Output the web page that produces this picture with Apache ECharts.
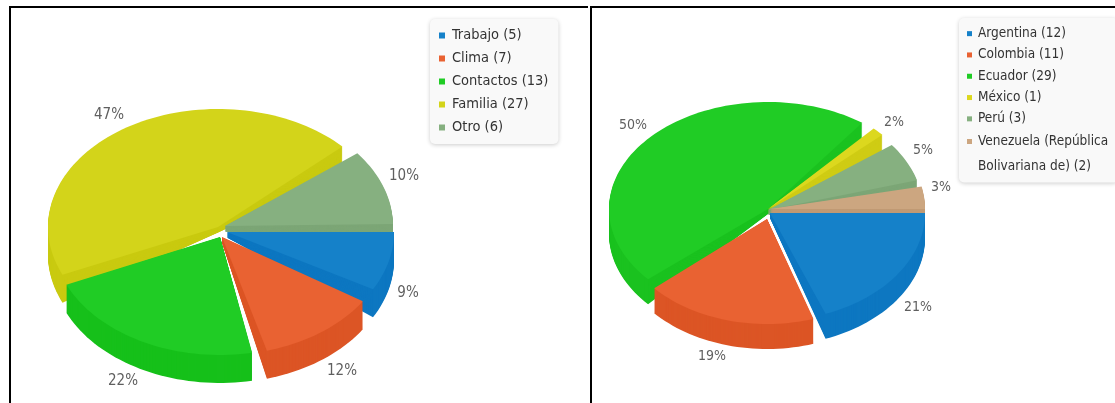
<!DOCTYPE html>
<html><head><meta charset="utf-8">
<style>html,body{margin:0;padding:0;background:#fff}#c{width:1115px;height:403px}</style>
<script src="https://cdn.jsdelivr.net/npm/echarts@6/dist/echarts.min.js"></script>
</head><body><div id="c"></div>
<script>
// ---- data ----
const leftCategories = ['Trabajo','Clima','Contactos','Familia','Otro'];
const leftValues = [5,7,13,27,6];
const rightCategories = ['Argentina','Colombia','Ecuador','México','Perú','Venezuela (República\nBolivariana de)'];
const rightValues = [12,11,29,1,3,2];
// ---- styles ----
const leftTop = ['#1581c9','#e96232','#20cc25','#d3d41a','#86b080'];
const leftSide = ['#0d77c1','#dc5525','#16c01a','#c9ca10','#7ca676'];
const rightTop = ['#1581c9','#e96232','#20cc25','#dcd81e','#86b080','#cca680'];
const rightSide = ['#0d77c1','#dc5525','#1ac21f','#cfcc14','#7ca676','#c09a74'];
// per-slice projection: apex x, apex y, radius x, radius y, angle correction at start and end (degrees)
const leftProj = [[227,232,167,118,0,-2],[222,237,168,118,2,0],[220,237,168,118,4.5,1],[218,227,170,118,1,-5.7],[225,226,168,118,-0.8,-1]];
const rightProj = [[770,213,155,108,0,-5.5],[767,219,150,105,-2.5,-4],[768,209,159,107,-3.8,-16.4],[768,209,155,110,-9.8,-11.4],[768,210,155,108,-6,-3.6],[770,209,155,108,0.4,0]];
const leftLabels = [[408,293],[342,371],[123,381],[109,115],[404,176]];
const rightLabels = [[918,307],[712,356],[633,125],[894,122],[923,150],[941,187]];
const leftOrder = [3,4,0,2,1];
const rightOrder = [2,3,4,5,0,1];
const APEX_TAPER = 0.2;
const FONT = '"DejaVu Sans Condensed","DejaVu Sans",sans-serif';

function outline(p, a0, a1, d){
  const [cx,cy,rx,ry] = p;
  const pts = [[cx, cy + d*APEX_TAPER]];
  const n = Math.max(2, Math.ceil((a1-a0)/2));
  for(let j=0;j<=n;j++){
    const t = (a0 + (a1-a0)*j/n)*Math.PI/180;
    pts.push([cx + rx*Math.cos(t), cy + ry*Math.sin(t) + d]);
  }
  return pts;
}
function panel(cats, vals, tops, sides, proj, labels, order, depth, fontSize){
  const total = vals.reduce((a,b)=>a+b,0);
  let acc = 0;
  const spans = vals.map(v=>{const s=acc; acc+=v; return [s/total*360, acc/total*360];});
  const name = i => cats[i]+' ('+vals[i]+')';
  const series = order.map((i,k)=>({
    type:'custom', name:name(i), coordinateSystem:'none', silent:true, animation:false, z:2+k,
    itemStyle:{color:tops[i]},
    data:[[vals[i]]],
    renderItem:function(){
      const p = proj[i], a0=spans[i][0]+p[4], a1=spans[i][1]+p[5];
      const kids=[];
      for(let d=depth;d>=0;d--){
        kids.push({type:'polygon',shape:{points:outline(p,a0,a1,d)},style:{fill:d===0?tops[i]:sides[i]}});
      }
      kids.push({type:'text',x:labels[i][0],y:labels[i][1],
        style:{text:Math.round(vals[i]/total*100)+'%',fill:'#5f5f5f',font:fontSize+'px '+FONT,align:'center',verticalAlign:'middle'}});
      return {type:'group',children:kids};
    }
  }));
  return {series, names:cats.map((c,i)=>name(i))};
}
const L = panel(leftCategories,leftValues,leftTop,leftSide,leftProj,leftLabels,leftOrder,28,15);
const R = panel(rightCategories,rightValues,rightTop,rightSide,rightProj,rightLabels,rightOrder,25,14);
const legendBase = {orient:'vertical',align:'left',icon:'rect',selectedMode:false,itemGap:0,
  backgroundColor:'#f9f9f9',borderRadius:5,shadowColor:'rgba(0,0,0,0.2)',shadowBlur:4,shadowOffsetX:0,shadowOffsetY:1};
const bar=(x,y,w,h,c)=>({type:'rect',silent:true,z:50,shape:{x,y,width:w,height:h},style:{fill:c||'#000'}});
// the two-line entry keeps its marker beside the first line
const rightLegendData = R.names.map((n,i)=> n.includes('\n') ? {name:n,itemStyle:{opacity:0}} : {name:n});
const chart = echarts.init(document.getElementById('c'),null,{renderer:'canvas'});
chart.setOption({
  backgroundColor:'#fff', animation:false, tooltip:{show:false},
  legend:[
    Object.assign({},legendBase,{data:L.names,left:430,top:19,padding:[5,10,5,9],itemWidth:6,itemHeight:6,
      textStyle:{fontFamily:FONT,fontSize:14.5,color:'#333',lineHeight:23,padding:[0,0,0,2]}}),
    Object.assign({},legendBase,{data:rightLegendData,left:959,top:18,padding:[5,10,3,8],itemWidth:5,itemHeight:5,
      formatter:function(n){
        const parts=n.split('\n');
        return parts.length>1 ? '{a|'+parts[0]+'}\n{b|'+parts[1]+'}' : n;
      },
      textStyle:{fontFamily:FONT,fontSize:13.5,color:'#333',lineHeight:21.3,padding:[0,0,0,1],
        rich:{a:{fontFamily:FONT,fontSize:13.5,color:'#333',lineHeight:24.7},
              b:{fontFamily:FONT,fontSize:13.5,color:'#333',lineHeight:25.3}}}})
  ],
  graphic:{elements:[bar(9,6,579,2),bar(9,6,2,397),bar(590,6,525,2),bar(590,6,2,397),bar(967,139,5,5,rightTop[5])]},
  series:L.series.concat(R.series)
});
</script></body></html>
